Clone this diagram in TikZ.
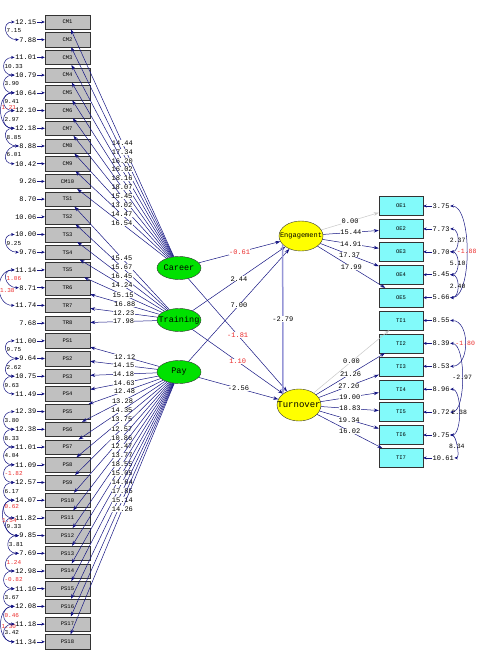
\documentclass[tikz,border=0pt]{standalone}
\usepackage{fontspec}
\setmonofont{Liberation Mono}
\usepackage{tikz}
\usetikzlibrary{shapes.geometric, arrows.meta, positioning}
\definecolor{navy}{RGB}{20, 20, 130}
\definecolor{boxgray}{RGB}{192, 192, 192}
\definecolor{boxcyan}{RGB}{130, 250, 250}
\definecolor{latgreen}{RGB}{0, 225, 0}
\definecolor{latyellow}{RGB}{255, 255, 0}
\definecolor{nsred}{RGB}{235, 45, 45}
\definecolor{fixgray}{RGB}{200, 200, 200}
\definecolor{lavender}{RGB}{150, 150, 215}
\tikzset{
    indicator/.style={rectangle, draw=black!80, fill=boxgray, minimum width=45pt, minimum height=14.5pt, inner sep=0pt, font=\ttfamily\fontsize{5.5}{6}\selectfont},
    outitem/.style={rectangle, draw=black!80, fill=boxcyan, minimum width=44pt, minimum height=19pt, inner sep=0pt, font=\ttfamily\fontsize{5.5}{6}\selectfont},
    latent/.style={ellipse, draw=black!80, fill=latgreen, minimum width=44pt, minimum height=23pt, inner sep=0pt, font=\ttfamily\fontsize{8.5}{9}\selectfont},
    outcome/.style={ellipse, draw=black!80, fill=latyellow, minimum width=44pt, minimum height=30pt, inner sep=0pt, font=\ttfamily\fontsize{7}{8}\selectfont},
    errlabel/.style={anchor=east, inner sep=0.5pt, font=\ttfamily\fontsize{7}{8}\selectfont},
    errlabelr/.style={anchor=west, inner sep=0.5pt, font=\ttfamily\fontsize{7}{8}\selectfont},
    tval/.style={midway, fill=white, text=black, inner sep=0.3pt, font=\ttfamily\fontsize{7}{8}\selectfont},
    tvalns/.style={tval, text=nsred},
    covlabel/.style={midway, text=black, inner sep=0.3pt, font=\ttfamily\fontsize{6.5}{7}\selectfont},
    covlabelns/.style={covlabel, text=nsred},
    leftcov/.style={anchor=west, font=\ttfamily\fontsize{6}{7}\selectfont},
    loading/.style={navy, line width=0.5pt, -{Stealth[length=5pt, width=3.5pt]}},
    fixedpath/.style={fixgray, line width=0.5pt, -{Stealth[length=5pt, width=3.5pt]}},
    mediator/.style={lavender, line width=1.5pt, -{Stealth[length=5pt, width=4pt]}},
    errarrow/.style={navy, line width=0.5pt, -{Stealth[length=3.5pt, width=3pt]}},
    covarc/.style={navy, line width=0.5pt, {Stealth[length=3.5pt, width=3pt]}-{Stealth[length=3.5pt, width=3pt]}}
}

\begin{document}
\begin{tikzpicture}[x=1pt, y=-1pt]
    \useasboundingbox (0,0) rectangle (483,650);

    % Latent variables
    \node[latent] (career) at (179,268) {\makebox[0pt]{Career}};
    \node[latent] (training) at (179,320) {\makebox[0pt]{Training}};
    \node[latent] (pay) at (179,372) {\makebox[0pt]{Pay}};
    \node[outcome] (engage) at (301,236) {\makebox[0pt]{Engagement}};
    \node[outcome, minimum height=32pt, font=\ttfamily\fontsize{9}{10}\selectfont] (turn) at (299,405) {\makebox[0pt]{Turnover}};

    % Career items
    \node[indicator] (cm1) at (67.5,22.0) {CM1};
    \node[indicator] (cm2) at (67.5,39.7) {CM2};
    \node[indicator] (cm3) at (67.5,57.4) {CM3};
    \node[indicator] (cm4) at (67.5,75.1) {CM4};
    \node[indicator] (cm5) at (67.5,92.8) {CM5};
    \node[indicator] (cm6) at (67.5,110.6) {CM6};
    \node[indicator] (cm7) at (67.5,128.3) {CM7};
    \node[indicator] (cm8) at (67.5,146.0) {CM8};
    \node[indicator] (cm9) at (67.5,163.7) {CM9};
    \node[indicator] (cm10) at (67.5,181.4) {CM10};

    % Training items
    \node[indicator] (ts1) at (67.5,199.1) {TS1};
    \node[indicator] (ts2) at (67.5,216.8) {TS2};
    \node[indicator] (ts3) at (67.5,234.5) {TS3};
    \node[indicator] (ts4) at (67.5,252.2) {TS4};
    \node[indicator] (ts5) at (67.5,269.9) {TS5};
    \node[indicator] (tr6) at (67.5,287.7) {TR6};
    \node[indicator] (tr7) at (67.5,305.4) {TR7};
    \node[indicator] (tr8) at (67.5,323.1) {TR8};

    % Pay items
    \node[indicator] (ps1) at (67.5,340.8) {PS1};
    \node[indicator] (ps2) at (67.5,358.5) {PS2};
    \node[indicator] (ps3) at (67.5,376.2) {PS3};
    \node[indicator] (ps4) at (67.5,393.9) {PS4};
    \node[indicator] (ps5) at (67.5,411.6) {PS5};
    \node[indicator] (ps6) at (67.5,429.3) {PS6};
    \node[indicator] (ps7) at (67.5,447.0) {PS7};
    \node[indicator] (ps8) at (67.5,464.8) {PS8};
    \node[indicator] (ps9) at (67.5,482.5) {PS9};
    \node[indicator] (ps10) at (67.5,500.2) {PS10};
    \node[indicator] (ps11) at (67.5,517.9) {PS11};
    \node[indicator] (ps12) at (67.5,535.6) {PS12};
    \node[indicator] (ps13) at (67.5,553.3) {PS13};
    \node[indicator] (ps14) at (67.5,571.0) {PS14};
    \node[indicator] (ps15) at (67.5,588.7) {PS15};
    \node[indicator] (ps16) at (67.5,606.4) {PS16};
    \node[indicator] (ps17) at (67.5,624.1) {PS17};
    \node[indicator] (ps18) at (67.5,641.8) {PS18};

    % Engagement and turnover items
    \node[outitem] (oe1) at (401,206.0) {OE1};
    \node[outitem] (oe2) at (401,228.9) {OE2};
    \node[outitem] (oe3) at (401,251.8) {OE3};
    \node[outitem] (oe4) at (401,274.7) {OE4};
    \node[outitem] (oe5) at (401,297.6) {OE5};
    \node[outitem] (ti1) at (401,320.5) {TI1};
    \node[outitem] (ti2) at (401,343.4) {TI2};
    \node[outitem] (ti3) at (401,366.3) {TI3};
    \node[outitem] (ti4) at (401,389.2) {TI4};
    \node[outitem] (ti5) at (401,412.1) {TI5};
    \node[outitem] (ti6) at (401,435.0) {TI6};
    \node[outitem] (ti7) at (401,457.9) {TI7};

    % Error variances, left
    \node[errlabel] (ecm1) at (37,22.0) {12.15};
    \node[errlabel] (ecm2) at (37,39.7) {7.88};
    \node[errlabel] (ecm3) at (37,57.4) {11.01};
    \node[errlabel] (ecm4) at (37,75.1) {10.79};
    \node[errlabel] (ecm5) at (37,92.8) {10.64};
    \node[errlabel] (ecm6) at (37,110.6) {12.10};
    \node[errlabel] (ecm7) at (37,128.3) {12.18};
    \node[errlabel] (ecm8) at (37,146.0) {8.88};
    \node[errlabel] (ecm9) at (37,163.7) {10.42};
    \node[errlabel] (ecm10) at (37,181.4) {9.26};
    \node[errlabel] (ets1) at (37,199.1) {8.70};
    \node[errlabel] (ets2) at (37,216.8) {10.06};
    \node[errlabel] (ets3) at (37,234.5) {10.00};
    \node[errlabel] (ets4) at (37,252.2) {9.76};
    \node[errlabel] (ets5) at (37,269.9) {11.14};
    \node[errlabel] (etr6) at (37,287.7) {8.71};
    \node[errlabel] (etr7) at (37,305.4) {11.74};
    \node[errlabel] (etr8) at (37,323.1) {7.68};
    \node[errlabel] (eps1) at (37,340.8) {11.00};
    \node[errlabel] (eps2) at (37,358.5) {9.64};
    \node[errlabel] (eps3) at (37,376.2) {10.75};
    \node[errlabel] (eps4) at (37,393.9) {11.49};
    \node[errlabel] (eps5) at (37,411.6) {12.39};
    \node[errlabel] (eps6) at (37,429.3) {12.38};
    \node[errlabel] (eps7) at (37,447.0) {11.01};
    \node[errlabel] (eps8) at (37,464.8) {11.09};
    \node[errlabel] (eps9) at (37,482.5) {12.57};
    \node[errlabel] (eps10) at (37,500.2) {14.07};
    \node[errlabel] (eps11) at (37,517.9) {11.82};
    \node[errlabel] (eps12) at (37,535.6) {9.85};
    \node[errlabel] (eps13) at (37,553.3) {7.69};
    \node[errlabel] (eps14) at (37,571.0) {12.98};
    \node[errlabel] (eps15) at (37,588.7) {11.10};
    \node[errlabel] (eps16) at (37,606.4) {12.08};
    \node[errlabel] (eps17) at (37,624.1) {11.18};
    \node[errlabel] (eps18) at (37,641.8) {11.34};

    % Error variances, right
    \node[errlabelr] (eoe1) at (432,206.0) {3.75};
    \node[errlabelr] (eoe2) at (432,228.9) {7.73};
    \node[errlabelr] (eoe3) at (432,251.8) {9.70};
    \node[errlabelr] (eoe4) at (432,274.7) {5.45};
    \node[errlabelr] (eoe5) at (432,297.6) {5.66};
    \node[errlabelr] (eti1) at (432,320.5) {8.55};
    \node[errlabelr] (eti2) at (432,343.4) {8.39};
    \node[errlabelr] (eti3) at (432,366.3) {8.53};
    \node[errlabelr] (eti4) at (432,389.2) {8.96};
    \node[errlabelr] (eti5) at (432,412.1) {9.72};
    \node[errlabelr] (eti6) at (432,435.0) {9.75};
    \node[errlabelr] (eti7) at (432,457.9) {10.61};

    % Error arrows
    \draw[errarrow] (ecm1) -- (cm1);
    \draw[errarrow] (ecm2) -- (cm2);
    \draw[errarrow] (ecm3) -- (cm3);
    \draw[errarrow] (ecm4) -- (cm4);
    \draw[errarrow] (ecm5) -- (cm5);
    \draw[errarrow] (ecm6) -- (cm6);
    \draw[errarrow] (ecm7) -- (cm7);
    \draw[errarrow] (ecm8) -- (cm8);
    \draw[errarrow] (ecm9) -- (cm9);
    \draw[errarrow] (ecm10) -- (cm10);
    \draw[errarrow] (ets1) -- (ts1);
    \draw[errarrow] (ets2) -- (ts2);
    \draw[errarrow] (ets3) -- (ts3);
    \draw[errarrow] (ets4) -- (ts4);
    \draw[errarrow] (ets5) -- (ts5);
    \draw[errarrow] (etr6) -- (tr6);
    \draw[errarrow] (etr7) -- (tr7);
    \draw[errarrow] (etr8) -- (tr8);
    \draw[errarrow] (eps1) -- (ps1);
    \draw[errarrow] (eps2) -- (ps2);
    \draw[errarrow] (eps3) -- (ps3);
    \draw[errarrow] (eps4) -- (ps4);
    \draw[errarrow] (eps5) -- (ps5);
    \draw[errarrow] (eps6) -- (ps6);
    \draw[errarrow] (eps7) -- (ps7);
    \draw[errarrow] (eps8) -- (ps8);
    \draw[errarrow] (eps9) -- (ps9);
    \draw[errarrow] (eps10) -- (ps10);
    \draw[errarrow] (eps11) -- (ps11);
    \draw[errarrow] (eps12) -- (ps12);
    \draw[errarrow] (eps13) -- (ps13);
    \draw[errarrow] (eps14) -- (ps14);
    \draw[errarrow] (eps15) -- (ps15);
    \draw[errarrow] (eps16) -- (ps16);
    \draw[errarrow] (eps17) -- (ps17);
    \draw[errarrow] (eps18) -- (ps18);
    \draw[errarrow] (eoe1) -- (oe1);
    \draw[errarrow] (eoe2) -- (oe2);
    \draw[errarrow] (eoe3) -- (oe3);
    \draw[errarrow] (eoe4) -- (oe4);
    \draw[errarrow] (eoe5) -- (oe5);
    \draw[errarrow] (eti1) -- (ti1);
    \draw[errarrow] (eti2) -- (ti2);
    \draw[errarrow] (eti3) -- (ti3);
    \draw[errarrow] (eti4) -- (ti4);
    \draw[errarrow] (eti5) -- (ti5);
    \draw[errarrow] (eti6) -- (ti6);
    \draw[errarrow] (eti7) -- (ti7);

    % Loadings
    \draw[loading] (career) -- (cm1) node[tval] {14.44};
    \draw[loading] (career) -- (cm2) node[tval] {17.34};
    \draw[loading] (career) -- (cm3) node[tval] {16.20};
    \draw[loading] (career) -- (cm4) node[tval] {16.02};
    \draw[loading] (career) -- (cm5) node[tval] {18.16};
    \draw[loading] (career) -- (cm6) node[tval] {18.07};
    \draw[loading] (career) -- (cm7) node[tval] {15.45};
    \draw[loading] (career) -- (cm8) node[tval] {13.02};
    \draw[loading] (career) -- (cm9) node[tval] {14.47};
    \draw[loading] (career) -- (cm10) node[tval] {16.54};
    \draw[loading] (training) -- (ts1) node[tval] {15.45};
    \draw[loading] (training) -- (ts2) node[tval] {15.67};
    \draw[loading] (training) -- (ts3) node[tval] {16.45};
    \draw[loading] (training) -- (ts4) node[tval] {14.24};
    \draw[loading] (training) -- (ts5) node[tval] {15.15};
    \draw[loading] (training) -- (tr6) node[tval] {16.88};
    \draw[loading] (training) -- (tr7) node[tval] {12.23};
    \draw[loading] (training) -- (tr8) node[tval] {17.98};
    \draw[loading] (pay) -- (ps1) node[tval] {12.12};
    \draw[loading] (pay) -- (ps2) node[tval] {14.15};
    \draw[loading] (pay) -- (ps3) node[tval] {14.18};
    \draw[loading] (pay) -- (ps4) node[tval] {14.63};
    \draw[loading] (pay) -- (ps5) node[tval] {12.48};
    \draw[loading] (pay) -- (ps6) node[tval] {13.28};
    \draw[loading] (pay) -- (ps7) node[tval] {14.35};
    \draw[loading] (pay) -- (ps8) node[tval] {13.75};
    \draw[loading] (pay) -- (ps9) node[tval] {12.57};
    \draw[loading] (pay) -- (ps10) node[tval] {10.86};
    \draw[loading] (pay) -- (ps11) node[tval] {12.47};
    \draw[loading] (pay) -- (ps12) node[tval] {13.77};
    \draw[loading] (pay) -- (ps13) node[tval] {18.55};
    \draw[loading] (pay) -- (ps14) node[tval] {15.05};
    \draw[loading] (pay) -- (ps15) node[tval] {14.64};
    \draw[loading] (pay) -- (ps16) node[tval] {17.85};
    \draw[loading] (pay) -- (ps17) node[tval] {15.14};
    \draw[loading] (pay) -- (ps18) node[tval] {14.26};
    \draw[fixedpath] (engage) -- (oe1) node[tval] {0.00};
    \draw[loading] (engage) -- (oe2) node[tval] {15.44};
    \draw[loading] (engage) -- (oe3) node[tval] {14.91};
    \draw[loading] (engage) -- (oe4) node[tval] {17.37};
    \draw[loading] (engage) -- (oe5) node[tval] {17.99};
    \draw[fixedpath] (turn) -- (ti1) node[tval] {0.00};
    \draw[loading] (turn) -- (ti2) node[tval] {21.26};
    \draw[loading] (turn) -- (ti3) node[tval] {27.20};
    \draw[loading] (turn) -- (ti4) node[tval] {19.00};
    \draw[loading] (turn) -- (ti5) node[tval] {18.83};
    \draw[loading] (turn) -- (ti6) node[tval] {19.34};
    \draw[loading] (turn) -- (ti7) node[tval] {16.02};

    % Structural paths
    \draw[loading] (career) -- (engage) node[tvalns] {-0.61};
    \draw[loading] (career) -- (turn) node[tvalns] {-1.81};
    \draw[loading] (training) -- (engage) node[tval] {2.44};
    \draw[loading] (training) -- (turn) node[tvalns] {1.10};
    \draw[loading] (pay) -- (engage) node[tval] {7.00};
    \draw[loading] (pay) -- (turn) node[tval] {-2.56};
    \draw[mediator] (engage.205) -- (turn.145) node[tval] {-2.79};

    % Error covariances, left
    \draw[covarc] (ecm1.west) .. controls +(-14,0) and +(-14,0) .. (ecm2.west) node[covlabel, leftcov] {7.15};
    \draw[covarc] (ecm3.west) .. controls +(-14,0) and +(-14,0) .. (ecm4.west) node[covlabel, leftcov] {10.33};
    \draw[covarc] (ecm4.west) .. controls +(-14,0) and +(-14,0) .. (ecm5.west) node[covlabel, leftcov] {3.90};
    \draw[covarc] (ecm5.west) .. controls +(-14,0) and +(-14,0) .. (ecm6.west) node[covlabel, leftcov] {9.41};
    \draw[covarc] (ecm5.west) .. controls +(-18,0) and +(-18,0) .. (ecm7.west) node[covlabelns, leftcov, anchor=south west] {1.21};
    \draw[covarc] (ecm6.west) .. controls +(-14,0) and +(-14,0) .. (ecm7.west) node[covlabel, leftcov] {2.97};
    \draw[covarc] (ecm7.west) .. controls +(-14,0) and +(-14,0) .. (ecm8.west) node[covlabel, leftcov] {8.85};
    \draw[covarc] (ecm8.west) .. controls +(-14,0) and +(-14,0) .. (ecm9.west) node[covlabel, leftcov] {6.01};
    \draw[covarc] (ets3.west) .. controls +(-14,0) and +(-14,0) .. (ets4.west) node[covlabel, leftcov] {9.25};
    \draw[covarc] (ets5.west) .. controls +(-14,0) and +(-14,0) .. (etr6.west) node[covlabelns, leftcov] {1.06};
    \draw[covarc] (ets5.west) .. controls +(-20,0) and +(-20,0) .. (etr7.west) node[covlabelns, leftcov, anchor=north west] {1.38};
    \draw[covarc] (eps1.west) .. controls +(-14,0) and +(-14,0) .. (eps2.west) node[covlabel, leftcov] {9.75};
    \draw[covarc] (eps2.west) .. controls +(-14,0) and +(-14,0) .. (eps3.west) node[covlabel, leftcov] {2.62};
    \draw[covarc] (eps3.west) .. controls +(-14,0) and +(-14,0) .. (eps4.west) node[covlabel, leftcov] {9.63};
    \draw[covarc] (eps5.west) .. controls +(-14,0) and +(-14,0) .. (eps6.west) node[covlabel, leftcov] {3.80};
    \draw[covarc] (eps6.west) .. controls +(-14,0) and +(-14,0) .. (eps7.west) node[covlabel, leftcov] {8.33};
    \draw[covarc] (eps7.west) .. controls +(-14,0) and +(-14,0) .. (eps8.west) node[covlabel, leftcov] {4.04};
    \draw[covarc] (eps8.west) .. controls +(-14,0) and +(-14,0) .. (eps9.west) node[covlabelns, leftcov] {-1.82};
    \draw[covarc] (eps9.west) .. controls +(-14,0) and +(-14,0) .. (eps10.west) node[covlabel, leftcov] {6.17};
    \draw[covarc] (eps10.west) .. controls +(-14,0) and +(-14,0) .. (eps11.west) node[covlabelns, leftcov, anchor=south west] {0.62};
    \draw[covarc] (eps10.west) .. controls +(-18,0) and +(-18,0) .. (eps12.west) node[covlabelns, leftcov, anchor=north west, xshift=-1.5pt] {1.54};
    \draw[covarc] (eps11.west) .. controls +(-14,0) and +(-14,0) .. (eps12.west) node[covlabel, leftcov] {9.33};
    \draw[covarc] (eps12.west) .. controls +(-14,0) and +(-14,0) .. (eps13.west) node[covlabel, leftcov] {3.81};
    \draw[covarc] (eps13.west) .. controls +(-14,0) and +(-14,0) .. (eps14.west) node[covlabelns, leftcov] {1.24};
    \draw[covarc] (eps14.west) .. controls +(-14,0) and +(-14,0) .. (eps15.west) node[covlabelns, leftcov] {-0.82};
    \draw[covarc] (eps15.west) .. controls +(-14,0) and +(-14,0) .. (eps16.west) node[covlabel, leftcov] {3.67};
    \draw[covarc] (eps16.west) .. controls +(-14,0) and +(-14,0) .. (eps17.west) node[covlabelns, leftcov] {0.46};
    \draw[covarc] (eps16.west) .. controls +(-18,0) and +(-18,0) .. (eps18.west) node[covlabelns, leftcov, anchor=north west] {1.30};
    \draw[covarc] (eps17.west) .. controls +(-14,0) and +(-14,0) .. (eps18.west) node[covlabel, leftcov] {3.42};

    % Error covariances, right
    \draw[covarc] (eoe1.east) .. controls +(22,0) and +(22,0) .. (eoe5.east) node[covlabelns] {-1.88};
    \draw[covarc] (eoe2.east) .. controls +(10,0) and +(10,0) .. (eoe3.east) node[covlabel] {2.37};
    \draw[covarc] (eoe3.east) .. controls +(10,0) and +(10,0) .. (eoe4.east) node[covlabel] {5.10};
    \draw[covarc] (eoe4.east) .. controls +(10,0) and +(10,0) .. (eoe5.east) node[covlabel] {2.40};
    \draw[covarc] (eti1.east) .. controls +(20,0) and +(20,0) .. (eti3.east) node[covlabelns] {-1.80};
    \draw[covarc] (eti2.east) .. controls +(16,0) and +(16,0) .. (eti5.east) node[covlabel] {-2.97};
    \draw[covarc] (eti4.east) .. controls +(12,0) and +(12,0) .. (eti6.east) node[covlabel] {2.38};
    \draw[covarc] (eti6.east) .. controls +(6,0) and +(6,0) .. (eti7.east) node[covlabel] {8.34};
\end{tikzpicture}
\end{document}
